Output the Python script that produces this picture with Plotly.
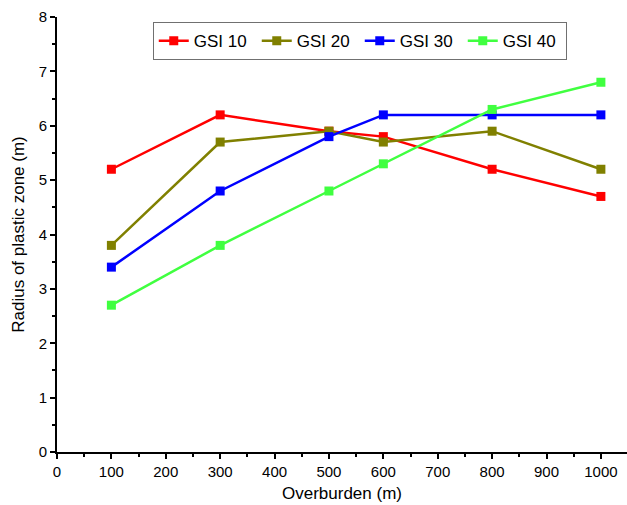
import plotly.graph_objects as go

overburden = [100, 300, 500, 600, 800, 1000]
gsi10 = [5.2, 6.2, 5.9, 5.8, 5.2, 4.7]
gsi20 = [3.8, 5.7, 5.9, 5.7, 5.9, 5.2]
gsi30 = [3.4, 4.8, 5.8, 6.2, 6.2, 6.2]
gsi40 = [2.7, 3.8, 4.8, 5.3, 6.3, 6.8]

series = [("GSI 10", gsi10, "#FF0000"), ("GSI 20", gsi20, "#808000"),
          ("GSI 30", gsi30, "#0000FF"), ("GSI 40", gsi40, "#40FF40")]

fig = go.Figure()
for name, ys, c in series:
    fig.add_trace(go.Scatter(x=overburden, y=ys, name=name, mode="lines+markers",
                             line=dict(color=c, width=2.5),
                             marker=dict(symbol="square", size=9, color=c)))

fam = "Liberation Sans"
fig.update_layout(
    width=627, height=505, margin=dict(l=57, r=0, t=17, b=53),
    paper_bgcolor="white", plot_bgcolor="white",
    font=dict(family=fam, size=15, color="black"),
    legend=dict(orientation="h", x=0.168, y=0.988, xanchor="left", yanchor="top",
                bordercolor="#707070", borderwidth=1, bgcolor="white",
                font=dict(family=fam, size=17, color="black"),
                entrywidth=58, entrywidthmode="pixels", tracegroupgap=0),
    xaxis=dict(range=[0, 1048], tickmode="array", tickvals=list(range(0, 1001, 100)),
               showgrid=False, zeroline=False, showline=True, linecolor="black", linewidth=2,
               ticks="outside", ticklen=5, tickwidth=2, tickcolor="black",
               tickfont=dict(family=fam, size=15),
               minor=dict(ticks="outside", ticklen=3, tickwidth=2, tickcolor="black", dtick=50),
               title=dict(text="Overburden (m)", font=dict(family=fam, size=17), standoff=8)),
    yaxis=dict(range=[0, 8], dtick=1, showgrid=False, zeroline=False, showline=True,
               linecolor="black", linewidth=2,
               ticks="outside", ticklen=5, tickwidth=2, tickcolor="black",
               tickfont=dict(family=fam, size=15),
               minor=dict(ticks="outside", ticklen=3, tickwidth=2, tickcolor="black", dtick=0.5),
               title=dict(text="Radius of plastic zone (m)", font=dict(family=fam, size=17), standoff=10)),
)
fig.write_html("out.html")
